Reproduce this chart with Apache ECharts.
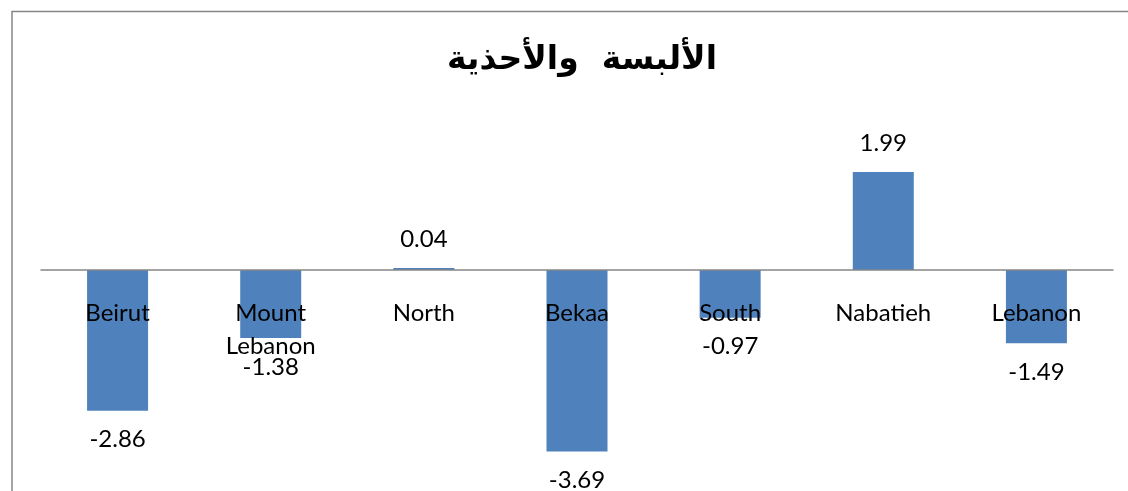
<!DOCTYPE html>
<html>
<head>
<meta charset="utf-8">
<script src="https://cdn.jsdelivr.net/npm/echarts@6/dist/echarts.min.js"></script>
<style>
html,body{margin:0;padding:0;background:#fff;}
#chart{width:1128px;height:491px;}
</style>
</head>
<body>
<div id="chart"></div>
<script>
const titleText = 'الألبسة  والأحذية';
const categories = ['Beirut', 'Mount Lebanon', 'North', 'Bekaa', 'South', 'Nabatieh', 'Lebanon'];
const values = [-2.86, -1.38, 0.04, -3.69, -0.97, 1.99, -1.49];

const chart = echarts.init(document.getElementById('chart'), null, {renderer: 'canvas'});

const seriesData = values.map(v => ({
  value: v,
  label: {position: v >= 0 ? 'top' : 'bottom'}
}));
const categoryLabelData = categories.map(c => [c, 0]);

chart.setOption({
  animation: false,
  backgroundColor: '#ffffff',
  title: {
    text: titleText,
    left: 577,
    top: 55,
    textAlign: 'center',
    textVerticalAlign: 'middle',
    textStyle: {
      fontFamily: 'DejaVu Sans',
      fontWeight: 'bold',
      fontSize: 33,
      color: '#000'
    }
  },
  graphic: [{
    type: 'rect',
    shape: {x: 12, y: 11.5, width: 1130, height: 500},
    style: {fill: 'none', stroke: '#868686', lineWidth: 1.5},
    silent: true,
    z: -1
  }],
  grid: {left: 41, right: 15, top: 122.4, bottom: 24.2, containLabel: false, outerBoundsMode: 'none'},
  xAxis: {
    type: 'category',
    data: categories,
    z: 10,
    axisLine: {show: true, onZero: true, lineStyle: {color: '#868686', width: 1.5}},
    axisTick: {show: false},
    axisLabel: {show: false},
    splitLine: {show: false}
  },
  yAxis: {
    type: 'value',
    min: -4,
    max: 3,
    show: false,
    splitLine: {show: false}
  },
  series: [{
    type: 'bar',
    data: seriesData,
    barWidth: 61,
    itemStyle: {color: '#4F81BD'},
    z: 2,
    label: {
      show: true,
      distance: 17,
      color: '#000',
      fontFamily: 'Lato',
      fontSize: 24,
      lineHeight: 24,
      formatter: p => p.value.toFixed(2)
    }
  }, {
    type: 'custom',
    data: categoryLabelData,
    z: 5,
    silent: true,
    renderItem: function (params, api) {
      const p = api.coord([api.value(0), 0]);
      return {
        type: 'text',
        x: p[0],
        y: p[1] + 26.5,
        style: {
          text: categories[params.dataIndex].replace(' ', '\n'),
          fill: '#000',
          fontFamily: 'Lato',
          fontSize: 24,
          lineHeight: 33,
          align: 'center',
          verticalAlign: 'top'
        }
      };
    }
  }]
});
</script>
</body>
</html>
